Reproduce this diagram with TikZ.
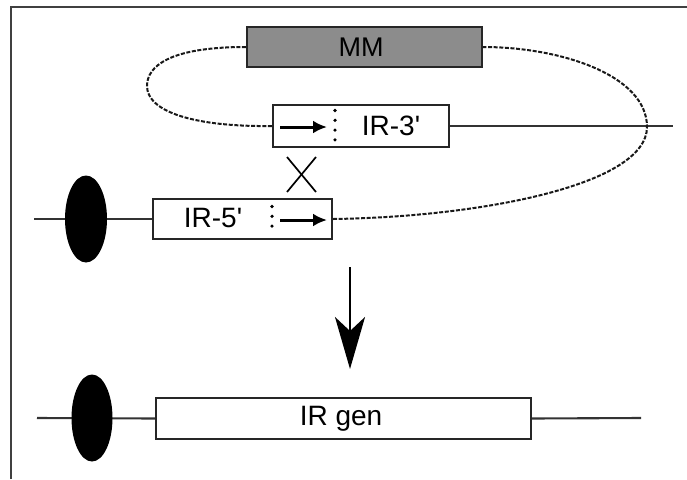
\documentclass[tikz,border=0pt]{standalone}
\usepackage{fontspec}
\newfontfamily\labfont{Liberation Sans}
\usetikzlibrary{arrows.meta,shapes.geometric}
\begin{document}
\begin{tikzpicture}[x=1pt,y=-1pt,
  wire/.style={line width=2.1pt, draw=black!80},
  gbox/.style={draw=black!85, line width=2.1pt, fill=white, inner sep=0pt, rectangle},
  lab/.style={font=\labfont\fontsize{28}{30}\selectfont, inner sep=0pt},
  loop/.style={line width=2pt, draw=black!90, dash pattern=on 4pt off 1.6pt},
  promoter/.style={ellipse, fill=black, draw=none, inner sep=0pt},
  smallarr/.style={line width=3pt, -{Latex[length=14pt,width=13pt]}},
  dotline/.style={line width=3.6pt, line cap=round, dash pattern=on 0pt off 9.8pt},
  cross/.style={line width=1.7pt}
]
\useasboundingbox (0,0) rectangle (687,479);
\fill[white] (0,0) rectangle (687,479);
% frame
\draw[line width=1.8pt, black!75] (11,479) -- (11,7) -- (687,7);

% nodes
\node[gbox, fill=black!45, minimum width=235pt, minimum height=40pt] (MM) at (364.5,47) {};
\node[lab, font=\labfont\fontsize{27}{29}\selectfont] (MMt) at (361,47.5) {MM};
\node[gbox, minimum width=176pt, minimum height=42pt] (IR3) at (361,126) {};
\node[lab] (IR3t) at (391,126) {IR-3'};
\node[gbox, minimum width=179pt, minimum height=40pt] (IR5) at (242.5,219) {};
\node[lab] (IR5t) at (213,218.5) {IR-5'};
\node[gbox, minimum width=375pt, minimum height=41pt] (IRg) at (343.5,418.5) {};
\node[lab] (IRgt) at (341,419) {IR gen};

\coordinate (a1) at (34,219);
\coordinate (a2) at (673,126);
\coordinate (b1) at (37,418);
\coordinate (b2) at (641,418);

% backbone lines
\draw[wire] (a1) -- (IR5.west);
\draw[wire] (IR3.east) -- (a2);
\draw[wire] (b1) -- (IRg.west);
\draw[wire] (IRg.east) -- (b2);

% promoters
\node[promoter, minimum width=42pt, minimum height=87pt] (P1) at (86,219) {};
\node[promoter, minimum width=41pt, minimum height=87pt] (P2) at (92,418) {};

% dashed loop
\draw[loop] (IR5.east) .. controls (480,217) and (647,185) .. (647,127)
  .. controls (647,75) and (560,47) .. (MM.east);
\draw[loop] (MM.west) .. controls (170,47) and (147,66) .. (147,86)
  .. controls (147,112) and (195,127) .. (IR3.west);

% small arrows and dotted lines
\coordinate (s3a) at (280,127); \coordinate (s3b) at (327,127);
\draw[smallarr] (s3a) -- (s3b);
\coordinate (d3a) at (335,110.5); \coordinate (d3b) at (335,142);
\draw[dotline] (d3a) -- (d3b);
\coordinate (s5a) at (280,220); \coordinate (s5b) at (327,220);
\draw[smallarr] (s5a) -- (s5b);
\coordinate (d5a) at (272,206.5); \coordinate (d5b) at (272,234);
\draw[dotline] (d5a) -- (d5b);

% crossover X
\coordinate (x1) at (287,157); \coordinate (x2) at (316,192);
\coordinate (x3) at (287,192); \coordinate (x4) at (316,157);
\draw[cross] (x1) -- (x2);
\draw[cross] (x3) -- (x4);

% big arrow
\coordinate (ba) at (350,267); \coordinate (bb) at (350,369);
\draw[line width=2.4pt, -{Stealth[length=52pt,width=30pt,inset=14pt]}] (ba) -- (bb);
\end{tikzpicture}
\end{document}
